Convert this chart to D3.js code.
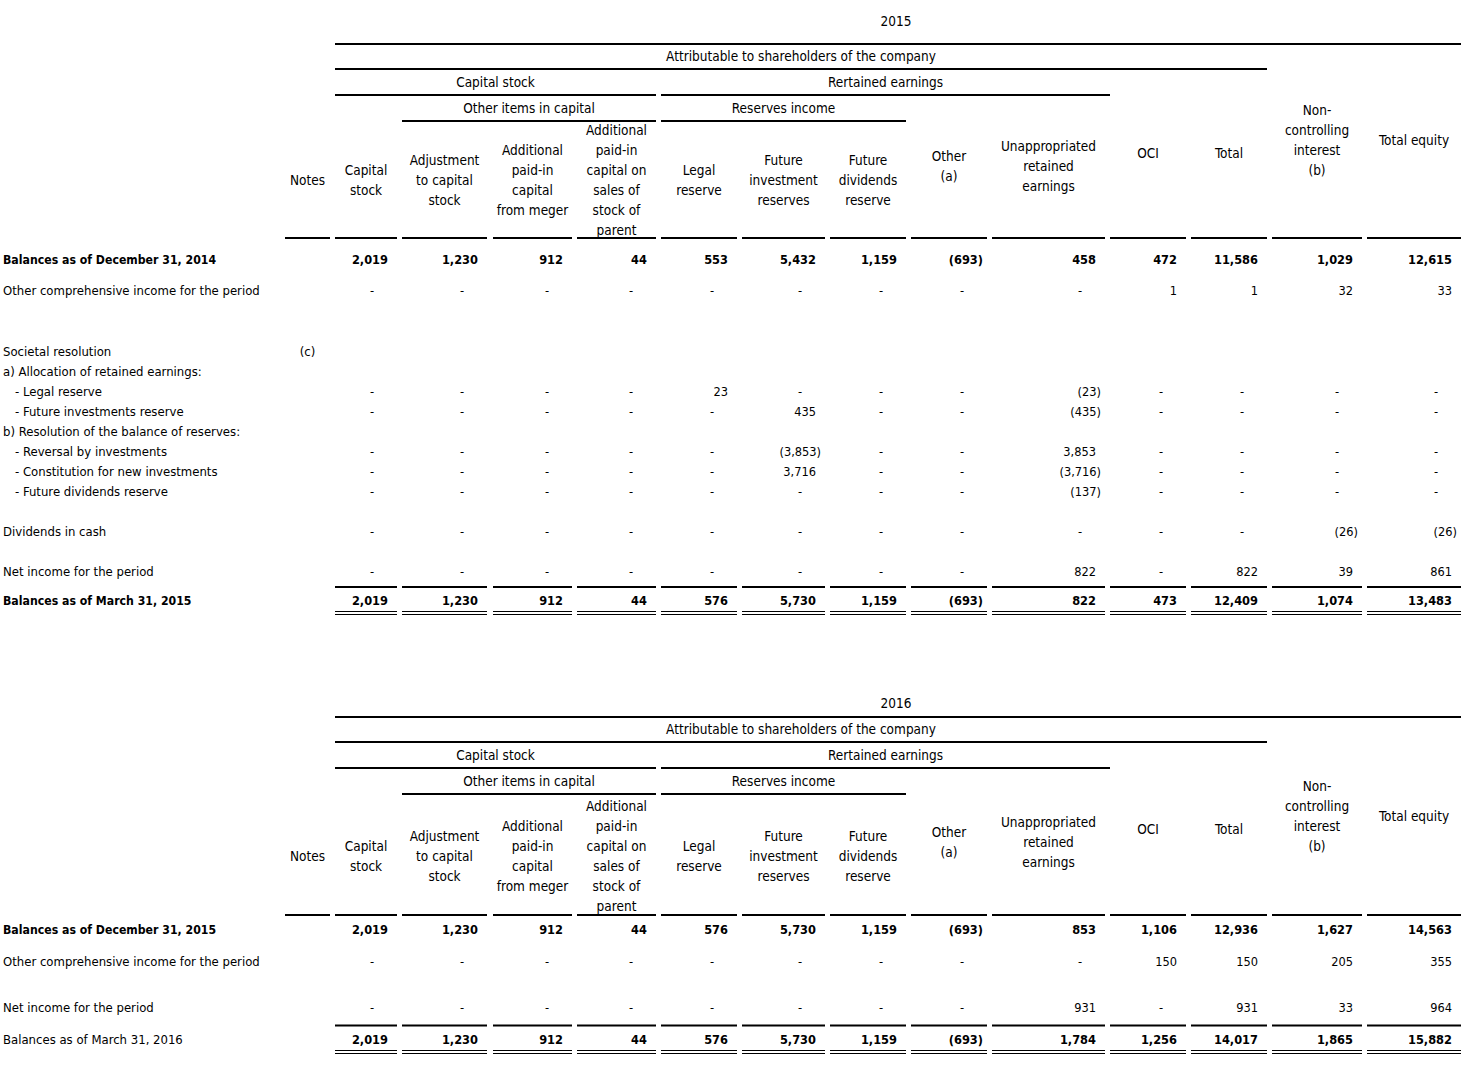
<!DOCTYPE html>
<html>
<head>
<meta charset="utf-8">
<script src="https://cdn.jsdelivr.net/npm/d3@7"></script>
<style>
body { margin: 0; background: #fff; }
svg text { font-family: "DejaVu Sans Condensed", "DejaVu Sans", sans-serif; fill: #000; }
</style>
</head>
<body>
<svg id="chart" width="1468" height="1069"></svg>
<script>
// ---- data ----
var years = ["2015", "2016"];

var colKeys = ["capital", "adjustment", "apicMerger", "apicSales", "legal", "futureInv",
	"futureDiv", "other", "unappropriated", "oci", "total", "nci", "totalEquity"];

var colHeaders = [
	["Capital", "stock"],
	["Adjustment", "to capital", "stock"],
	["Additional", "paid-in", "capital", "from meger"],
	["Additional", "paid-in", "capital on", "sales of", "stock of", "parent"],
	["Legal", "reserve"],
	["Future", "investment", "reserves"],
	["Future", "dividends", "reserve"],
	["Other", "(a)"],
	["Unappropriated", "retained", "earnings"],
	["OCI"],
	["Total"],
	["Non-", "controlling", "interest", "(b)"],
	["Total equity"]
];

var groupHeaders = [
	{label: "Attributable to shareholders of the company", from: "capital", to: "total", level: 0},
	{label: "Capital stock", from: "capital", to: "apicSales", level: 1},
	{label: "Rertained earnings", from: "legal", to: "unappropriated", level: 1},
	{label: "Other items in capital", from: "adjustment", to: "apicSales", level: 2},
	{label: "Reserves income", from: "legal", to: "futureDiv", level: 2}
];

var rowLabels2015 = [
	"Balances as of December 31, 2014",
	"Other comprehensive income for the period",
	"Societal resolution",
	"a) Allocation of retained earnings:",
	"   - Legal reserve",
	"   - Future investments reserve",
	"b) Resolution of the balance of reserves:",
	"   - Reversal by investments",
	"   - Constitution for new investments",
	"   - Future dividends reserve",
	"Dividends in cash",
	"Net income for the period",
	"Balances as of March 31, 2015"
];
var rowNotes2015 = ["", "", "(c)", "", "", "", "", "", "", "", "", "", ""];
var values2015 = [
	[2019, 1230, 912, 44, 553, 5432, 1159, -693, 458, 472, 11586, 1029, 12615],
	[0, 0, 0, 0, 0, 0, 0, 0, 0, 1, 1, 32, 33],
	null,
	null,
	[0, 0, 0, 0, 23, 0, 0, 0, -23, 0, 0, 0, 0],
	[0, 0, 0, 0, 0, 435, 0, 0, -435, 0, 0, 0, 0],
	null,
	[0, 0, 0, 0, 0, -3853, 0, 0, 3853, 0, 0, 0, 0],
	[0, 0, 0, 0, 0, 3716, 0, 0, -3716, 0, 0, 0, 0],
	[0, 0, 0, 0, 0, 0, 0, 0, -137, 0, 0, 0, 0],
	[0, 0, 0, 0, 0, 0, 0, 0, 0, 0, 0, -26, -26],
	[0, 0, 0, 0, 0, 0, 0, 0, 822, 0, 822, 39, 861],
	[2019, 1230, 912, 44, 576, 5730, 1159, -693, 822, 473, 12409, 1074, 13483]
];

var rowLabels2016 = [
	"Balances as of December 31, 2015",
	"Other comprehensive income for the period",
	"Net income for the period",
	"Balances as of March 31, 2016"
];
var rowNotes2016 = ["", "", "", ""];
var values2016 = [
	[2019, 1230, 912, 44, 576, 5730, 1159, -693, 853, 1106, 12936, 1627, 14563],
	[0, 0, 0, 0, 0, 0, 0, 0, 0, 150, 150, 205, 355],
	[0, 0, 0, 0, 0, 0, 0, 0, 931, 0, 931, 33, 964],
	[2019, 1230, 912, 44, 576, 5730, 1159, -693, 1784, 1256, 14017, 1865, 15882]
];

// ---- layout ----
var COL_LEFT  = [335, 402, 493, 577, 661, 742, 830, 911, 992, 1110, 1191, 1272, 1367];
var COL_RIGHT = [397, 487, 572, 656, 737, 825, 906, 987, 1105, 1186, 1267, 1362, 1461];
var HEAD_MID  = [136, 136, 136, 136, 136, 136, 136, 122, 122, 109, 109, 96, 96];
var NOTES_LEFT = 285, NOTES_RIGHT = 330;
var LINE_H = 20;
var GROUP_PAD = [0, 0, 5, 0, 0]; // retained earnings rule runs a bit past its last column

var tables = [
	{year: years[0], labels: rowLabels2015, notes: rowNotes2015, values: values2015,
		top: 44, yearY: 21, headBottom: 194, shift: 0,
		rowY: [259, 290, 351, 371, 391, 411, 431, 451, 471, 491, 531, 571, 600],
		boldLabel: [true, false, false, false, false, false, false, false, false, false, false, false, true],
		lineY: 587, dblY: 611.5},
	{year: years[1], labels: rowLabels2016, notes: rowNotes2016, values: values2016,
		top: 717, yearY: 703, headBottom: 198, shift: 2.5,
		rowY: [929, 961, 1007, 1039],
		boldLabel: [true, false, false, false],
		lineY: 1025.5, dblY: 1050.5}
];

var xLeft = d3.scaleOrdinal().domain(colKeys).range(COL_LEFT);
var xRight = d3.scaleOrdinal().domain(colKeys).range(COL_RIGHT);
var headMid = d3.scaleOrdinal().domain(colKeys).range(HEAD_MID);
var num = d3.format(",");

function fmtValue(v) {
	if (v === 0) return "-";
	return v < 0 ? "(" + num(-v) + ")" : num(v);
}

function hline(g, x1, x2, y, w) {
	g.append("line")
		.attr("x1", x1).attr("x2", x2)
		.attr("y1", y).attr("y2", y)
		.attr("stroke", "#000")
		.attr("stroke-width", w);
}

function drawHeader(g, t) {
	var y0 = t.top;
	g.append("text")
		.attr("x", 896).attr("y", t.yearY).attr("dy", "0.38em")
		.attr("text-anchor", "middle")
		.style("font-size", "13.5px")
		.text(t.year);

	// top rule over the whole header
	hline(g, xLeft("capital"), xRight("totalEquity"), y0, 2);

	// grouped headers with the rule under each of them
	var levelText = [12, 38, 64], levelLine = [25, 51, 77];
	groupHeaders.forEach(function(h, i) {
		var x1 = xLeft(h.from), x2 = xRight(h.to) + GROUP_PAD[i];
		g.append("text")
			.attr("x", (x1 + x2) / 2)
			.attr("y", y0 + levelText[h.level]).attr("dy", "0.38em")
			.attr("text-anchor", "middle")
			.style("font-size", "13.5px")
			.text(h.label);
		hline(g, x1, x2, y0 + levelLine[h.level], 2);
	});

	// column headers
	var cols = g.selectAll(".col-head")
		.data(colKeys)
		.enter()
		.append("text")
		.classed("col-head", true)
		.attr("text-anchor", "middle")
		.style("font-size", "13.5px")
		.attr("transform", function(d) {
			var x = (xLeft(d) + xRight(d)) / 2;
			return "translate(" + x + "," + (y0 + headMid(d) + t.shift) + ")";
		});
	cols.selectAll("tspan")
		.data(function(d, i) { return colHeaders[i]; })
		.enter()
		.append("tspan")
		.attr("x", 0)
		.attr("y", function(d, i, nodes) {
			return (i - (nodes.length - 1) / 2) * LINE_H;
		})
		.attr("dy", "0.38em")
		.text(function(d) { return d; });

	g.append("text")
		.attr("x", (NOTES_LEFT + NOTES_RIGHT) / 2)
		.attr("y", y0 + 136 + t.shift).attr("dy", "0.38em")
		.attr("text-anchor", "middle")
		.style("font-size", "13.5px")
		.text("Notes");

	// bottom rule of the header, one piece per column
	var yb = y0 + t.headBottom;
	hline(g, NOTES_LEFT, NOTES_RIGHT, yb, 2);
	colKeys.forEach(function(k) { hline(g, xLeft(k), xRight(k), yb, 2); });
}

function drawRows(g, t) {
	var yRow = d3.scaleOrdinal().domain(d3.range(t.labels.length)).range(t.rowY);
	var last = t.labels.length - 1;

	var rows = g.selectAll(".row")
		.data(t.labels)
		.enter()
		.append("g")
		.classed("row", true)
		.attr("transform", function(d, i) { return "translate(0," + yRow(i) + ")"; });

	rows.append("text")
		.attr("x", function(d) { return d.indexOf("   -") === 0 ? 15 : 3; })
		.attr("dy", "0.4em")
		.style("font-size", function(d, i) { return t.boldLabel[i] ? "12.2px" : "13px"; })
		.style("font-weight", function(d, i) { return t.boldLabel[i] ? "bold" : "normal"; })
		.text(function(d) { return d.replace(/^\s+/, ""); });

	rows.append("text")
		.attr("x", (NOTES_LEFT + NOTES_RIGHT) / 2)
		.attr("dy", "0.4em")
		.attr("text-anchor", "middle")
		.style("font-size", "13px")
		.text(function(d, i) { return t.notes[i]; });

	// cell values
	rows.each(function(d, i) {
		var vals = t.values[i];
		if (!vals) return;
		var strong = (i === 0 || i === last);
		d3.select(this).selectAll(".cell")
			.data(vals)
			.enter()
			.append("text")
			.classed("cell", true)
			.attr("dy", "0.4em")
			.style("font-size", "12.7px")
			.style("font-weight", strong ? "bold" : "normal")
			.attr("text-anchor", function(v) { return v === 0 ? "middle" : "end"; })
			.attr("x", function(v, j) {
				var r = xRight(colKeys[j]) - 9;
				if (v === 0) return r - 16;
				return v < 0 ? r + 5 : r;
			})
			.text(fmtValue);
	});

	// totals rules: single above the closing balance, double below it
	colKeys.forEach(function(k) {
		hline(g, xLeft(k), xRight(k), t.lineY, 2);
		hline(g, xLeft(k), xRight(k), t.dblY, 1);
		hline(g, xLeft(k), xRight(k), t.dblY + 3, 1);
	});
}

var svg = d3.select("#chart");
svg.append("rect").attr("width", 1468).attr("height", 1069).attr("fill", "#fff");

tables.forEach(function(t) {
	var g = svg.append("g").classed("table", true);
	drawHeader(g, t);
	drawRows(g, t);
});
</script>
</body>
</html>
